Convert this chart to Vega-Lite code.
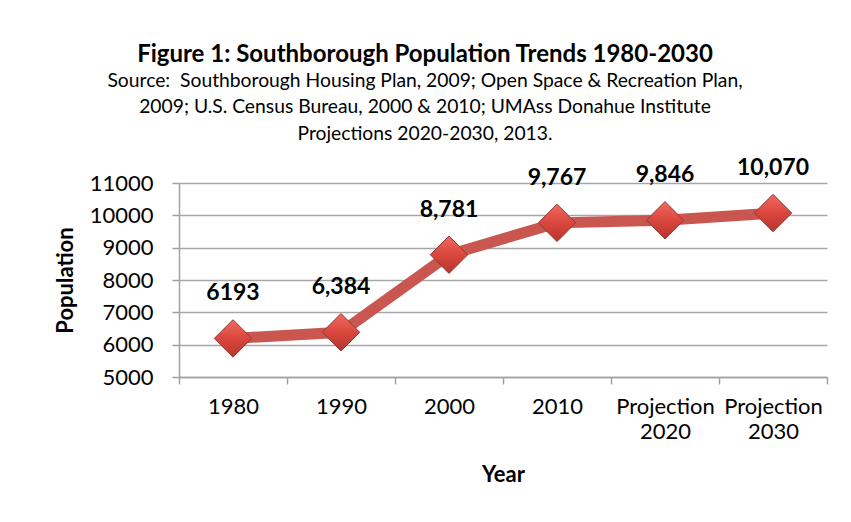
{
  "$schema": "https://vega.github.io/schema/vega-lite/v6.json",
  "width": 648,
  "height": 194,
  "autosize": "none",
  "padding": {"left": 179, "top": 183, "right": 24, "bottom": 145},
  "background": "white",
  "title": {
    "text": "Figure 1: Southborough Population Trends 1980-2030",
    "subtitle": ["Source:\u00a0 Southborough Housing Plan, 2009; Open Space & Recreation Plan,", "2009; U.S. Census Bureau, 2000 & 2010; UMAss Donahue Institute", "Projections 2020-2030, 2013."],
    "anchor": "middle",
    "frame": "group",
    "dx": -78,
    "offset": 13,
    "font": "Lato",
    "fontSize": 24,
    "fontWeight": "bold",
    "color": "black",
    "subtitleFont": "Lato",
    "subtitleFontSize": 19.3,
    "subtitleLineHeight": 26.5,
    "subtitlePadding": 5,
    "subtitleColor": "black"
  },
  "data": {
    "values": [
      {"year": "1980", "pop": 6193, "label": "6193"},
      {"year": "1990", "pop": 6384, "label": "6,384"},
      {"year": "2000", "pop": 8781, "label": "8,781"},
      {"year": "2010", "pop": 9767, "label": "9,767"},
      {"year": "Projection 2020", "pop": 9846, "label": "9,846"},
      {"year": "Projection 2030", "pop": 10070, "label": "10,070"}
    ]
  },
  "encoding": {
    "x": {
      "field": "year",
      "type": "nominal",
      "sort": null,
      "scale": {"type": "band", "paddingInner": 0, "paddingOuter": 0},
      "axis": {
        "title": "Year",
        "labelAngle": 0,
        "labelExpr": "split(datum.label, ' ')",
        "labelLineHeight": 25,
        "tickBand": "extent",
        "grid": false,
        "tickSize": 7,
        "labelPadding": 12,
        "titlePadding": 22
      }
    },
    "y": {
      "field": "pop",
      "type": "quantitative",
      "scale": {"domain": [5000, 11000], "nice": false, "zero": false},
      "axis": {
        "title": "Population",
        "values": [5000, 6000, 7000, 8000, 9000, 10000, 11000],
        "format": "d",
        "grid": true,
        "tickSize": 7,
        "labelPadding": 19,
        "titlePadding": 12
      }
    }
  },
  "layer": [
    {"mark": {"type": "line", "color": "#c9574f", "strokeWidth": 11, "strokeCap": "butt"}},
    {
      "mark": {
        "type": "point",
        "shape": "diamond",
        "size": 1400,
        "filled": true,
        "opacity": 1,
        "fill": {
          "gradient": "linear",
          "x1": 0, "y1": 0, "x2": 0, "y2": 1,
          "stops": [
            {"offset": 0, "color": "#f26a5e"},
            {"offset": 0.5, "color": "#d9473d"},
            {"offset": 1, "color": "#b7352d"}
          ]
        },
        "stroke": "#8e3a34",
        "strokeWidth": 1
      }
    },
    {
      "mark": {"type": "text", "font": "Lato", "fontSize": 23, "fontWeight": "bold", "dy": -45, "color": "black"},
      "encoding": {"text": {"field": "label"}}
    }
  ],
  "config": {
    "font": "Lato",
    "view": {"stroke": null},
    "axis": {
      "labelFont": "Lato",
      "labelFontSize": 22,
      "labelColor": "black",
      "titleFont": "Lato",
      "titleFontSize": 22,
      "titleFontWeight": "bold",
      "titleColor": "black",
      "domainColor": "#a0a0a0",
      "domainWidth": 1.5,
      "tickColor": "#a0a0a0",
      "tickWidth": 1.5,
      "gridColor": "#a6a6a6",
      "gridWidth": 1.5
    }
  }
}
